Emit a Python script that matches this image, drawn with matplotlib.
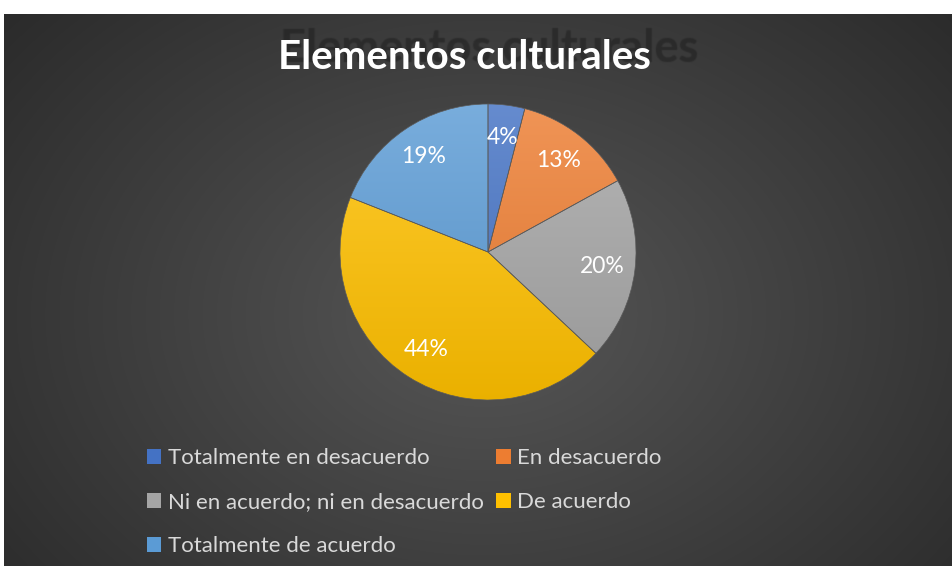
import matplotlib
matplotlib.use("Agg")
import matplotlib.pyplot as plt
import numpy as np
from matplotlib.colors import to_rgb
from matplotlib.patches import Patch

W, H = 953, 566

CATEGORIES = ["Totalmente en desacuerdo", "En desacuerdo",
              "Ni en acuerdo; ni en desacuerdo", "De acuerdo",
              "Totalmente de acuerdo"]
PERCENTS = [4, 13, 20, 44, 19]
COLOURS = ["#4472C4", "#ED7D31", "#A5A5A5", "#FFC000", "#5B9BD5"]

TITLE = "Elementos culturales"
FONT = "Lato"


def blend(c, other, t):
    c = np.array(to_rgb(c))
    return tuple(c * (1 - t) + np.array(other) * t)


fig = plt.figure(figsize=(W / 100, H / 100), dpi=100)
fig.patch.set_facecolor("white")

# dark radial-gradient panel
bg = fig.add_axes([4 / W, 0, (W - 4) / W, (H - 14) / H])
yy, xx = np.mgrid[0:552, 0:949]
d = np.sqrt(((xx - 480) / 620) ** 2 + ((yy - 300) / 460) ** 2)
level = 0.34 - 0.17 * np.clip(d, 0, 1)
bg.imshow(np.dstack([level] * 3), aspect="auto", extent=[0, 1, 0, 1])
bg.set_axis_off()

# faint, blurred, larger ghost copy of the title behind it
for dx, dy, a in [(0, 0, 0.22), (1.2, 0, 0.1), (-1.2, 0, 0.1), (0, 1.2, 0.1), (0, -1.2, 0.1)]:
    fig.text((280 + dx) / W, 1 - (62 + dy) / H, TITLE, color="#1e1e1e", alpha=a,
             fontsize=32.5, fontweight="bold", family=FONT, ha="left", va="baseline")
fig.text(278 / W, 1 - 69 / H, TITLE, color="white", fontsize=29, fontweight="bold",
         family=FONT, ha="left", va="baseline")

# pie
R = 148
cx, cy = 488, 252
ax = fig.add_axes([(cx - R) / W, 1 - (cy + R) / H, 2 * R / W, 2 * R / H])
wedges, texts = ax.pie(PERCENTS, colors=COLOURS, startangle=90, counterclock=False,
                       labels=[f"{p}%" for p in PERCENTS], labeldistance=0.78,
                       wedgeprops=dict(edgecolor="#5a5a5a", linewidth=0.5),
                       textprops=dict(color="white", fontsize=16.5, family=FONT))
for t in texts:
    t.set_ha("center")
    t.set_va("center")
    t.set_zorder(5)

grad = np.linspace(0, 1, 200)[:, None]
for w, c in zip(wedges, COLOURS):
    top = np.array(blend(c, (1, 1, 1), 0.18))
    bot = np.array(blend(c, (0, 0, 0), 0.08))
    img = top[None, None, :] * (1 - grad[:, :, None]) + bot[None, None, :] * grad[:, :, None]
    im = ax.imshow(img, extent=[-1, 1, -1, 1], aspect="auto", zorder=2)
    im.set_clip_path(w)
    w.set_facecolor("none")
    w.set_zorder(3)
ax.set_xlim(-1, 1)
ax.set_ylim(-1, 1)
ax.set_aspect("auto")
ax.set_axis_off()

# legend, row-wise order in two columns
order = [0, 2, 4, 1, 3]
handles = [Patch(facecolor=COLOURS[i], edgecolor="none") for i in order]
labels = [CATEGORIES[i] for i in order]
leg = fig.legend(handles, labels, ncol=2, loc="upper left",
                 bbox_to_anchor=(138 / W, 1 - 439 / H), frameon=False,
                 prop=dict(family=FONT, size=16), labelcolor="#d9d9d9",
                 handlelength=0.65, handleheight=0.65, handletextpad=0.3,
                 columnspacing=0.55, labelspacing=1.08, borderaxespad=0)

fig.savefig("out.png", dpi=100, facecolor=fig.get_facecolor())
